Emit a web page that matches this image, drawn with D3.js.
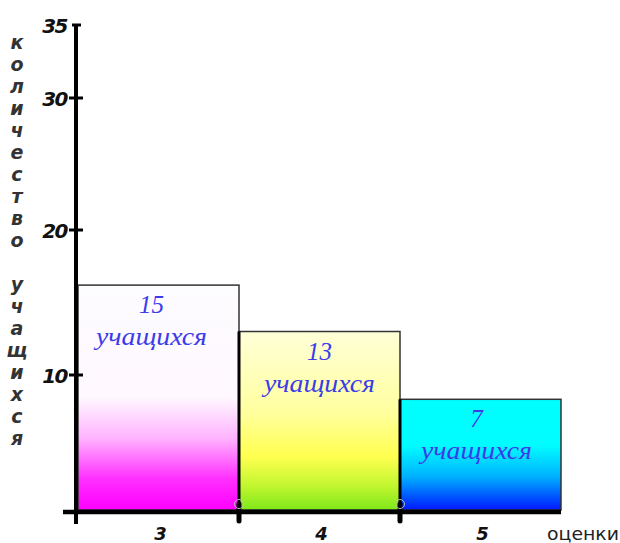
<!DOCTYPE html>
<html><head><meta charset="utf-8">
<script src="https://cdn.jsdelivr.net/npm/d3@7"></script>
<style>html,body{margin:0;padding:0;background:#fff;}</style>
</head><body>
<svg id="c" width="620" height="543"></svg>
<script>
// ---- data ----
const grades = ["3", "4", "5"];
const studentCounts = [15, 13, 7];          // numbers written on the bars
const barHeights = [16.2, 13.0, 8.2];        // bar tops as drawn on the y scale
const yTicks = [10, 20, 30, 35];
const yTitle = "количество учащихся";
const xTitle = "оценки";
const barWord = "учащихся";

// ---- styles ----
const gradients = [
  [[0, "#fdfcff"], [0.5, "#fff8ff"], [0.68, "#ffb4ff"], [0.86, "#ff30ff"], [1, "#ff00ff"]],
  [[0, "#ffffd8"], [0.45, "#ffffa0"], [0.7, "#ffff50"], [0.86, "#c4f630"], [1, "#7ee81a"]],
  [[0, "#00ffff"], [0.42, "#00fcff"], [0.7, "#00b0ff"], [1, "#0018ff"]]
];
const labelShift = [-7, 0, -4];

const svg = d3.select("#c");
const defs = svg.append("defs");
gradients.forEach((g, i) => {
  const lg = defs.append("linearGradient").attr("id", "g" + i)
    .attr("x1", 0).attr("y1", 0).attr("x2", 0).attr("y2", 1);
  g.forEach(s => lg.append("stop").attr("offset", s[0]).attr("stop-color", s[1]));
});

const y = d3.scaleLinear().domain([0, 10, 20, 30, 35]).range([510, 375, 230, 98, 25]);
const x = d3.scaleBand().domain(grades).range([78, 561]).padding(0);

const data = grades.map((g, i) => ({g, count: studentCounts[i], h: barHeights[i], i}));

// bars
svg.selectAll("rect.bar").data(data).enter().append("rect")
  .attr("class", "bar")
  .attr("x", d => x(d.g)).attr("y", d => y(d.h))
  .attr("width", x.bandwidth()).attr("height", d => y(0) - y(d.h))
  .attr("fill", d => `url(#g${d.i})`)
  .attr("stroke", "#333").attr("stroke-width", 1.5);

// thick left edges of bars 2 and 3
svg.selectAll("line.edge").data(data.slice(1)).enter().append("line")
  .attr("x1", d => x(d.g)).attr("x2", d => x(d.g))
  .attr("y1", d => y(d.h)).attr("y2", y(0))
  .attr("stroke", "#000").attr("stroke-width", 3);

// bar labels
const lab = svg.selectAll("g.lab").data(data).enter().append("g")
  .attr("font-family", "'Liberation Serif', 'Times New Roman', serif")
  .attr("font-style", "italic").attr("font-size", 25).attr("fill", "#3b3bea")
  .attr("text-anchor", "middle");
lab.append("text").attr("x", d => x(d.g) + x.bandwidth() / 2 + labelShift[d.i]).attr("y", d => y(d.h) + 28)
  .text(d => d.count);
lab.append("text").attr("x", d => x(d.g) + x.bandwidth() / 2 + labelShift[d.i]).attr("y", d => y(d.h) + 60)
  .attr("textLength", 111).attr("lengthAdjust", "spacingAndGlyphs")
  .text(barWord);

// x axis line
svg.append("line").attr("x1", 63).attr("x2", 561).attr("y1", 512).attr("y2", 512)
  .attr("stroke", "#000").attr("stroke-width", 4.5);
// y axis line
svg.append("line").attr("x1", 76).attr("x2", 76).attr("y1", y(35)).attr("y2", 524)
  .attr("stroke", "#000").attr("stroke-width", 4);

// y ticks
svg.selectAll("line.yt").data(yTicks).enter().append("line")
  .attr("x1", d => d === 35 ? 72 : 69).attr("x2", d => d === 35 ? 81 : 83)
  .attr("y1", d => y(d)).attr("y2", d => y(d))
  .attr("stroke", "#000").attr("stroke-width", 3);
svg.selectAll("text.yl").data(yTicks).enter().append("text")
  .attr("x", 67).attr("y", d => y(d) + 8)
  .attr("text-anchor", "end")
  .attr("font-family", "'DejaVu Sans', sans-serif").attr("font-weight", "bold")
  .attr("font-style", "italic").attr("font-size", 20).attr("fill", "#111")
  .attr("letter-spacing", -1.5)
  .text(d => d);

// x ticks between bars
const bounds = grades.slice(1).map(g => x(g));
svg.selectAll("line.xt").data(bounds).enter().append("line")
  .attr("x1", d => d).attr("x2", d => d).attr("y1", 504).attr("y2", 521)
  .attr("stroke", "#000").attr("stroke-width", 5).attr("stroke-linecap", "round");
svg.selectAll("circle.xc").data(bounds).enter().append("circle")
  .attr("cx", d => d).attr("cy", 504).attr("r", 4.5)
  .attr("fill", "none").attr("stroke", "#bbb").attr("stroke-width", 1);

// category labels
svg.selectAll("text.xl").data(grades).enter().append("text")
  .attr("x", d => x(d) + x.bandwidth() / 2 + 2).attr("y", 540)
  .attr("text-anchor", "middle")
  .attr("font-family", "'DejaVu Sans', sans-serif").attr("font-weight", "bold")
  .attr("font-style", "italic").attr("font-size", 18).attr("fill", "#111")
  .text(d => d);

// x title
svg.append("text").attr("x", 547).attr("y", 540)
  .attr("font-family", "'DejaVu Sans', sans-serif").attr("font-size", 17).attr("fill", "#222")
  .attr("textLength", 72).attr("lengthAdjust", "spacingAndGlyphs")
  .text(xTitle);

// y title: vertical stacked letters
const letters = Array.from(yTitle);
svg.selectAll("text.yt2").data(letters).enter().append("text")
  .attr("x", 17).attr("y", (d, i) => 49 + i * 22)
  .attr("text-anchor", "middle")
  .attr("font-family", "'DejaVu Sans', sans-serif").attr("font-weight", "bold")
  .attr("font-style", "italic").attr("font-size", 19).attr("fill", "#333")
  .text(d => d);
</script>
</body></html>
